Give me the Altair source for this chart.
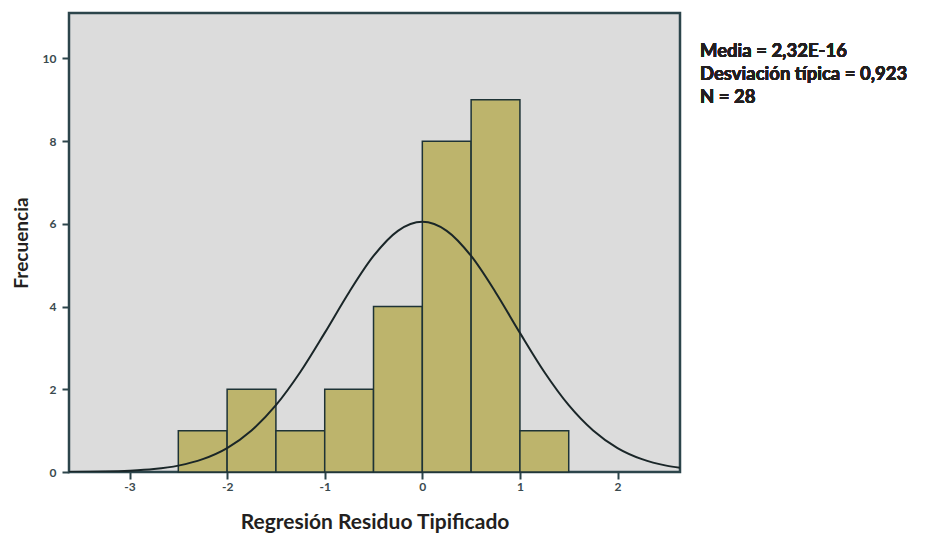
import altair as alt
import pandas as pd

# Histogram bins (standardized residuals) and frequencies
bin_start = [-2.5, -2.0, -1.5, -1.0, -0.5, 0.0, 0.5, 1.0]
bin_end = [-2.0, -1.5, -1.0, -0.5, 0.0, 0.5, 1.0, 1.5]
counts = [1, 2, 1, 2, 4, 8, 9, 1]

# Fitted normal curve
curve_x = [-3.62, -3.25, -3.0, -2.75, -2.5, -2.25, -2.0, -1.75, -1.5, -1.25, -1.0,
           -0.75, -0.5, -0.25, 0.0, 0.25, 0.5, 0.75, 1.0, 1.25, 1.5, 1.75, 2.0,
           2.25, 2.5, 2.64]
curve_y = [0.003, 0.012, 0.031, 0.071, 0.154, 0.310, 0.578, 1.003, 1.615, 2.418, 3.364,
           4.349, 5.224, 5.832, 6.05, 5.832, 5.224, 4.349, 3.364, 2.418, 1.615, 1.003, 0.578,
           0.310, 0.154, 0.101]

x_ticks = [-3, -2, -1, 0, 1, 2]
y_ticks = [0, 2, 4, 6, 8, 10]

stats_lines = ["Media = 2,32E-16", "Desviación típica = 0,923", "N = 28"]

bars_df = pd.DataFrame({"start": bin_start, "end": bin_end, "count": counts})
curve_df = pd.DataFrame({"x": curve_x, "y": curve_y})

W, H = 611, 459
xscale = alt.Scale(domain=[-3.62, 2.64], nice=False, zero=False)
yscale = alt.Scale(domain=[0, 11.1], nice=False)

FRAME = "#2c454b"
LABEL = "#3a4a4e"

x_axis = alt.Axis(values=x_ticks, title="Regresión Residuo Tipificado", grid=False,
                  domain=False, tickColor=FRAME, tickSize=7, tickWidth=2,
                  labelExpr="datum.value",
                  labelFont="Lato", labelFontWeight="bold", labelFontSize=12,
                  labelColor=LABEL, labelPadding=2,
                  titleFont="Lato", titleFontWeight="bold", titleFontSize=21,
                  titleColor="#231f20", titleY=56, titleBaseline="alphabetic")
y_axis = alt.Axis(values=y_ticks, title="Frecuencia", grid=False,
                  domain=False, tickColor=FRAME, tickSize=7, tickWidth=2,
                  labelExpr="datum.value",
                  labelFont="Lato", labelFontWeight="bold", labelFontSize=12,
                  labelColor=LABEL, labelPadding=6,
                  titleFont="Lato", titleFontWeight="bold", titleFontSize=19,
                  titleColor="#231f20", titleX=-48, titleBaseline="middle")

bars = alt.Chart(bars_df).mark_rect(
    fill="#bdb46c", stroke="#1e3336", strokeWidth=1.5
).encode(
    x=alt.X("start:Q", scale=xscale, axis=x_axis),
    x2="end:Q",
    y=alt.Y("count:Q", scale=yscale, axis=y_axis),
    y2=alt.datum(0),
)

curve = alt.Chart(curve_df).mark_line(
    color="#1a2628", strokeWidth=2, interpolate="monotone", clip=True
).encode(
    x=alt.X("x:Q", scale=xscale),
    y=alt.Y("y:Q", scale=yscale),
)

stats = alt.Chart(bars_df).mark_text(
    align="left", baseline="alphabetic", font="Lato", fontWeight="bold",
    fontSize=18.5, color="#231f20", lineHeight=23
).encode(
    x=alt.value(631),
    y=alt.value(44),
    text=alt.value(stats_lines),
)

chart = alt.layer(bars, curve, stats).properties(
    width=W, height=H,
    background="white",
    autosize=alt.AutoSizeParams(type="none"),
    padding={"left": 61, "top": 5, "right": 247, "bottom": 62},
).configure_view(
    fill="#dcdcdc", stroke=FRAME, strokeWidth=2.5
)

chart.save("out.html", embed_options={"renderer": "svg", "actions": False})
